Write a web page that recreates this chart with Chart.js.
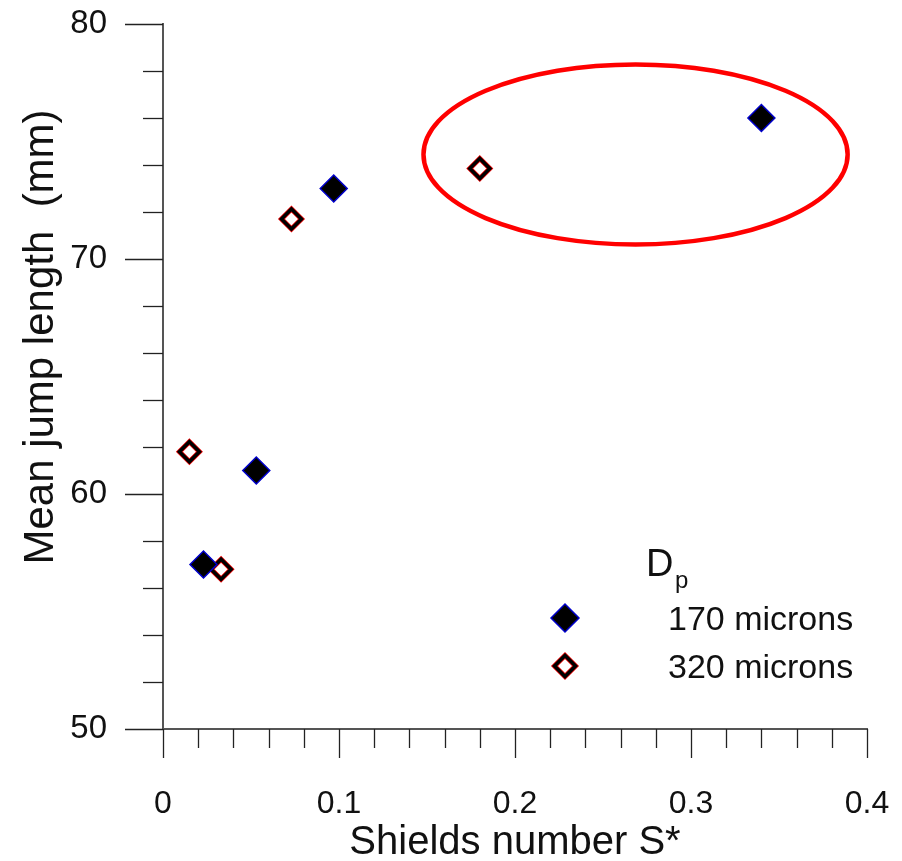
<!DOCTYPE html>
<html><head><meta charset="utf-8">
<script src="https://cdn.jsdelivr.net/npm/chart.js@4/dist/chart.umd.min.js"></script>
<style>html,body{margin:0;padding:0;background:#fff}#wrap{width:902px;height:861px;position:relative}</style>
</head><body><div id="wrap"><canvas id="c"></canvas></div>
<script>
// ---- data ----
const seriesNames = ['170 microns', '320 microns'];
const shields170 = [0.023, 0.053, 0.097, 0.340];
const jump170    = [57.0, 61.0, 73.0, 76.0];
const shields320 = [0.015, 0.033, 0.073, 0.180];
const jump320    = [61.8, 56.8, 71.7, 73.85];
const xTicks = [0, 0.1, 0.2, 0.3, 0.4];
const yTicks = [50, 60, 70, 80];
const xTitle = 'Shields number S*';
const yTitle = 'Mean jump length  (mm)';
const legendTitle = 'D';
const legendSub = 'p';
const highlight = {cx: 0.2685, cy: 74.45, rx: 0.1205, ry: 3.83};

const FONT = '"Liberation Sans", Arial, sans-serif';
const TXT = '#111';
const AXIS = '#555';

function pts(xs, ys) { return xs.map((x, i) => ({x: x, y: ys[i]})); }

function diamond(ctx, x, y, r) {
  ctx.beginPath();
  ctx.moveTo(x - r, y); ctx.lineTo(x, y - r); ctx.lineTo(x + r, y); ctx.lineTo(x, y + r);
  ctx.closePath();
}
function zeroPad(s) { s.paddingTop = 0; s.paddingBottom = 0; s.paddingLeft = 0; s.paddingRight = 0; }

const extras = {
  id: 'extras',
  afterDraw(chart) {
    const ctx = chart.ctx, xs = chart.scales.x, ys = chart.scales.y, ca = chart.chartArea;
    ctx.save();
    // minor / major ticks
    ctx.strokeStyle = '#222'; ctx.lineWidth = 1.3;
    for (let v = ys.min; v <= ys.max + 1e-9; v += 2) {
      const p = Math.round(ys.getPixelForValue(v)) + 0.5;
      const major = yTicks.some(t => Math.abs(t - v) < 1e-6);
      ctx.beginPath(); ctx.moveTo(ca.left - (major ? 38 : 20), p); ctx.lineTo(ca.left, p); ctx.stroke();
    }
    for (let v = xs.min; v <= xs.max + 1e-9; v += 0.02) {
      const p = Math.round(xs.getPixelForValue(v)) + 0.5;
      const major = xTicks.some(t => Math.abs(t - v) < 1e-6);
      ctx.beginPath(); ctx.moveTo(p, ca.bottom); ctx.lineTo(p, ca.bottom + (major ? 29 : 19)); ctx.stroke();
    }
    // highlight ellipse
    const cx = xs.getPixelForValue(highlight.cx), cy = ys.getPixelForValue(highlight.cy);
    const rx = Math.abs(xs.getPixelForValue(highlight.cx + highlight.rx) - cx);
    const ry = Math.abs(ys.getPixelForValue(highlight.cy + highlight.ry) - cy);
    ctx.strokeStyle = '#ff0000'; ctx.lineWidth = 4.5;
    ctx.beginPath(); ctx.ellipse(cx, cy, rx, ry, 0, 0, Math.PI * 2); ctx.stroke();
    // y axis title
    ctx.fillStyle = TXT;
    ctx.font = '42px ' + FONT;
    ctx.save();
    ctx.translate(53, 337); ctx.rotate(-Math.PI / 2);
    ctx.textAlign = 'center'; ctx.textBaseline = 'alphabetic';
    ctx.fillText(yTitle, 0, 0);
    ctx.restore();
    // legend
    ctx.textAlign = 'left'; ctx.textBaseline = 'alphabetic';
    ctx.font = '38px ' + FONT;
    ctx.fillText(legendTitle, 646, 576);
    ctx.font = '24px ' + FONT;
    ctx.fillText(legendSub, 675, 588);
    diamond(ctx, 565, 618, 14);
    ctx.fillStyle = '#000'; ctx.fill();
    ctx.strokeStyle = '#0000cc'; ctx.lineWidth = 1.5; ctx.stroke();
    diamond(ctx, 565, 666, 10.5);
    ctx.fillStyle = '#fff'; ctx.fill();
    ctx.strokeStyle = '#ee0000'; ctx.lineWidth = 5; ctx.stroke();
    ctx.strokeStyle = '#000'; ctx.lineWidth = 3.5; ctx.stroke();
    ctx.fillStyle = TXT;
    ctx.font = '34px ' + FONT;
    ctx.fillText(seriesNames[0], 668, 630);
    ctx.fillText(seriesNames[1], 668, 678);
    ctx.restore();
  }
};

new Chart(document.getElementById('c'), {
  type: 'scatter',
  data: {
    datasets: [
      { label: seriesNames[0], data: pts(shields170, jump170), pointStyle: 'rectRot', pointRadius: 13.5, pointHoverRadius: 13.5,
        backgroundColor: '#000', borderColor: '#0000cc', borderWidth: 1.5, order: 0 },
      { label: seriesNames[1] + ' (edge)', data: pts(shields320, jump320), pointStyle: 'rectRot', pointRadius: 10, pointHoverRadius: 10,
        backgroundColor: 'rgba(0,0,0,0)', borderColor: '#000', borderWidth: 3.5, order: 1 },
      { label: seriesNames[1], data: pts(shields320, jump320), pointStyle: 'rectRot', pointRadius: 10, pointHoverRadius: 10,
        backgroundColor: '#fff', borderColor: '#ee0000', borderWidth: 5, order: 2 }
    ]
  },
  options: {
    responsive: true, maintainAspectRatio: false, animation: false,
    layout: { padding: { top: 24, right: 35, left: 0, bottom: 0 } },
    plugins: { legend: { display: false }, tooltip: { enabled: false } },
    scales: {
      x: {
        type: 'linear', min: xTicks[0], max: xTicks[xTicks.length - 1],
        afterBuildTicks: s => { s.ticks = xTicks.map(v => ({value: v})); },
        afterFit: s => { s.height = 132; zeroPad(s); },
        grid: { display: true, drawOnChartArea: false, drawTicks: false },
        border: { display: true, color: AXIS, width: 2 },
        ticks: { padding: 56, color: TXT, font: { family: FONT, size: 32 }, maxRotation: 0,
                 callback: v => String(Number(v.toFixed(1))) },
        title: { display: true, text: xTitle, color: TXT, font: { family: FONT, size: 40, lineHeight: 0.9 }, padding: 0 }
      },
      y: {
        type: 'linear', min: yTicks[0], max: yTicks[yTicks.length - 1],
        afterBuildTicks: s => { s.ticks = yTicks.map(v => ({value: v})); },
        afterFit: s => { s.width = 163; zeroPad(s); },
        grid: { display: true, drawOnChartArea: false, drawTicks: false },
        border: { display: true, color: AXIS, width: 2 },
        ticks: { padding: 56, color: TXT, font: { family: FONT, size: 33 } }
      }
    }
  },
  plugins: [extras]
});
</script>
</body></html>
